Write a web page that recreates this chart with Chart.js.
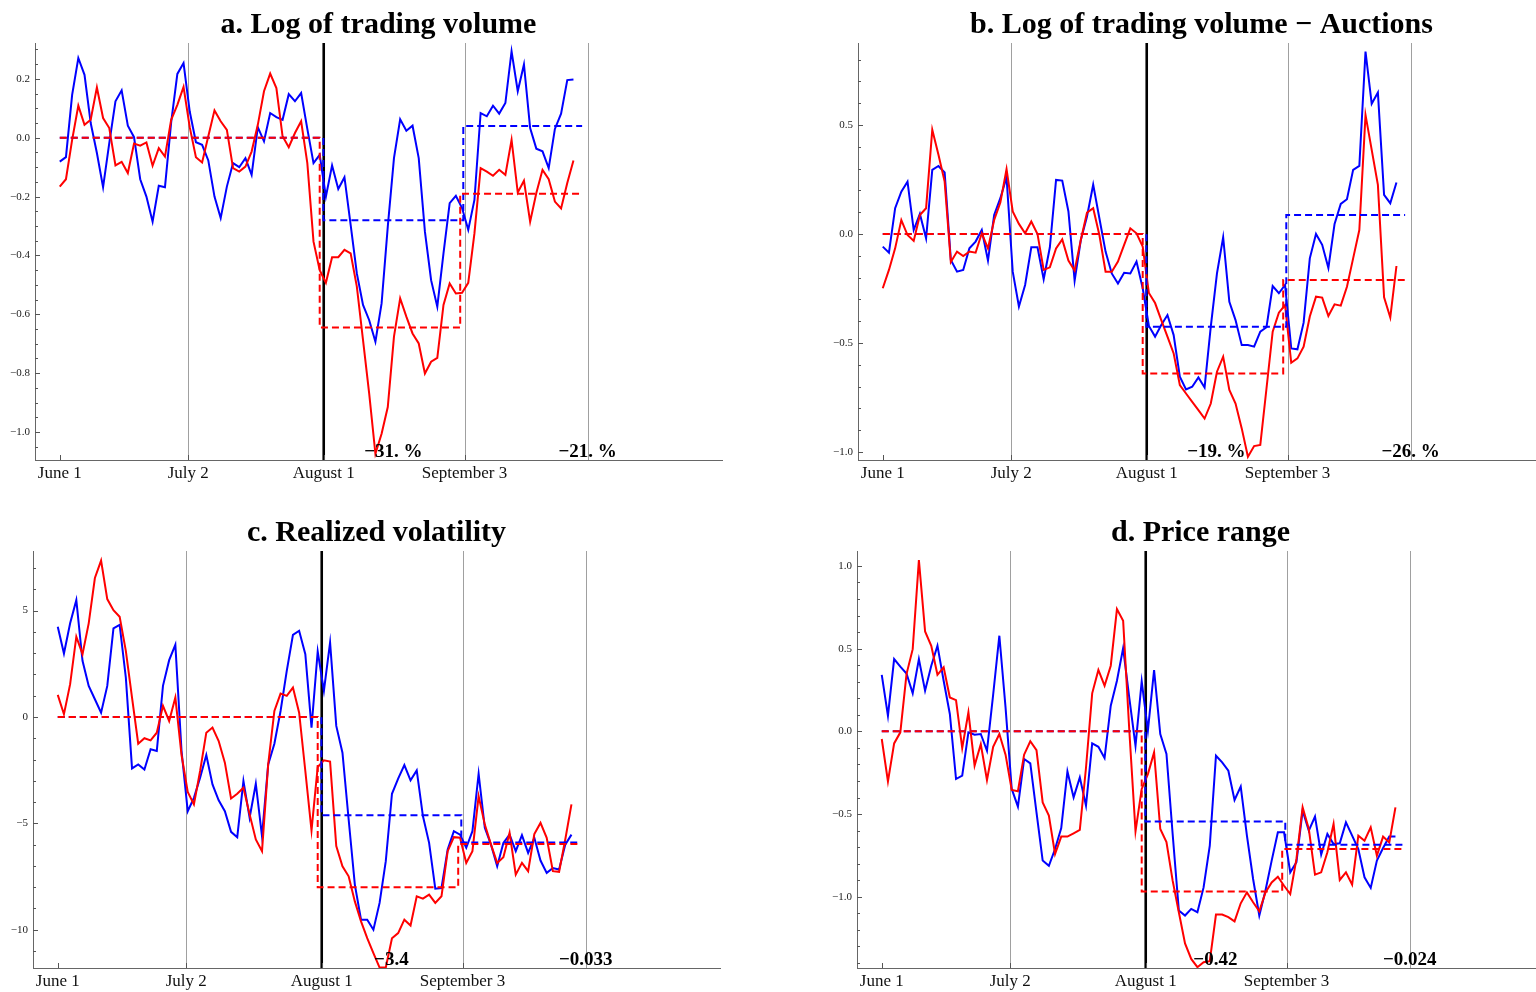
<!DOCTYPE html>
<html>
<head>
<meta charset="utf-8">
<script src="https://cdn.jsdelivr.net/npm/chart.js@4.4.1/dist/chart.umd.min.js"></script>
<style>
  body { margin: 0; background: #fff; width: 1536px; height: 992px; overflow: hidden; position: relative; }
  .panel { position: absolute; width: 768px; height: 496px; }
</style>
</head>
<body>
<div class="panel" style="left:0px;top:0px"><canvas id="chartA" width="768" height="496"></canvas></div>
<div class="panel" style="left:823px;top:0px"><canvas id="chartB" width="768" height="496"></canvas></div>
<div class="panel" style="left:-2px;top:508px"><canvas id="chartC" width="768" height="496"></canvas></div>
<div class="panel" style="left:822px;top:508px"><canvas id="chartD" width="768" height="496"></canvas></div>

<script>
// x axis: trading day index, June 1 = 0
const dateLabels = ['June 1', 'July 2', 'August 1', 'September 3'];
const datePos = [0, 20.75, 42.65, 65.4];
const octPos = 85.3;
const redBreaks = [42.0, 64.7];
const blueBreaks = [42.6, 65.2];
const stepEnd = 84.4;

// a. Log of trading volume
const volBlue = [-0.081, -0.066, 0.146, 0.271, 0.214, 0.05, -0.052, -0.168, -0.018, 0.124,
  0.161, 0.041, 0.002, -0.141, -0.2, -0.285, -0.163, -0.168, 0.052, 0.217,
  0.254, 0.089, -0.015, -0.024, -0.077, -0.2, -0.273, -0.166, -0.086, -0.1,
  -0.069, -0.126, 0.036, -0.012, 0.084, 0.07, 0.061, 0.148, 0.124, 0.152,
  0.03, -0.086, -0.058, -0.2, -0.094, -0.174, -0.134, -0.296, -0.461, -0.568,
  -0.62, -0.693, -0.563, -0.302, -0.069, 0.063, 0.024, 0.041, -0.069, -0.319,
  -0.484, -0.574, -0.393, -0.222, -0.197, -0.239, -0.313, -0.211, 0.084, 0.073,
  0.109, 0.082, 0.118, 0.294, 0.158, 0.249, 0.033, -0.037, -0.046, -0.103,
  0.03, 0.082, 0.196, 0.198];
const volRed = [-0.166, -0.141, -0.007, 0.109, 0.044, 0.061, 0.171, 0.067, 0.033, -0.094,
  -0.082, -0.12, -0.02, -0.027, -0.016, -0.095, -0.035, -0.064, 0.061, 0.112,
  0.173, 0.036, -0.066, -0.084, 0.005, 0.093, 0.056, 0.027, -0.103, -0.115,
  -0.098, -0.047, 0.044, 0.158, 0.218, 0.169, 0.005, -0.032, 0.016, 0.056,
  -0.086, -0.353, -0.45, -0.493, -0.406, -0.406, -0.381, -0.393, -0.506, -0.688,
  -0.87, -1.074, -1.006, -0.915, -0.676, -0.546, -0.608, -0.665, -0.699, -0.801,
  -0.761, -0.748, -0.568, -0.495, -0.529, -0.527, -0.493, -0.325, -0.103, -0.115,
  -0.129, -0.109, -0.126, -0.007, -0.186, -0.146, -0.285, -0.188, -0.109, -0.141,
  -0.217, -0.24, -0.154, -0.077];
const volBlueLevels = [0, -0.28, 0.04];
const volRedLevels = [0, -0.645, -0.19];
const volTicks = [-1.0, -0.8, -0.6, -0.4, -0.2, 0.0, 0.2];
const volNotes = ['\u221231. %', '\u221221. %'];

// b. Log of trading volume - Auctions
const aucBlue = [-0.058, -0.086, 0.118, 0.194, 0.24, 0.018, 0.092, -0.02, 0.294, 0.312,
  0.282, -0.119, -0.173, -0.165, -0.066, -0.035, 0.018, -0.122, 0.087, 0.164,
  0.26, -0.173, -0.333, -0.234, -0.061, -0.061, -0.208, -0.061, 0.248, 0.245,
  0.103, -0.214, -0.028, 0.08, 0.226, 0.072, -0.081, -0.181, -0.227, -0.178,
  -0.181, -0.127, -0.249, -0.422, -0.471, -0.418, -0.372, -0.464, -0.655, -0.713,
  -0.701, -0.658, -0.704, -0.425, -0.181, -0.015, -0.311, -0.395, -0.51, -0.51,
  -0.517, -0.448, -0.428, -0.239, -0.272, -0.234, -0.525, -0.529, -0.407, -0.112,
  0.0, -0.05, -0.156, 0.046, 0.138, 0.159, 0.294, 0.312, 0.837, 0.597,
  0.649, 0.179, 0.141, 0.236];
const aucRed = [-0.249, -0.165, -0.066, 0.064, -0.005, -0.032, 0.087, 0.118, 0.478, 0.363,
  0.24, -0.129, -0.081, -0.101, -0.081, -0.086, 0.003, -0.066, 0.064, 0.144,
  0.297, 0.103, 0.046, 0.003, 0.057, 0.0, -0.165, -0.153, -0.066, -0.025,
  -0.122, -0.168, -0.028, 0.098, 0.118, -0.005, -0.173, -0.173, -0.127, -0.05,
  0.026, 0.003, -0.058, -0.271, -0.317, -0.395, -0.471, -0.548, -0.693, -0.732,
  -0.77, -0.808, -0.847, -0.778, -0.632, -0.563, -0.716, -0.778, -0.892, -1.022,
  -0.973, -0.968, -0.709, -0.448, -0.361, -0.326, -0.591, -0.571, -0.517, -0.379,
  -0.288, -0.292, -0.376, -0.323, -0.329, -0.242, -0.112, 0.018, 0.546, 0.386,
  0.225, -0.291, -0.383, -0.147];
const aucBlueLevels = [0, -0.426, 0.087];
const aucRedLevels = [0, -0.64, -0.211];
const aucTicks = [-1.0, -0.5, 0.0, 0.5];
const aucNotes = ['\u221219. %', '\u221226. %'];

// c. Realized volatility
const rvBlue = [4.24, 2.98, 4.4, 5.49, 2.64, 1.46, 0.83, 0.2, 1.46, 4.16,
  4.33, 1.85, -2.42, -2.23, -2.47, -1.52, -1.6, 1.46, 2.67, 3.39,
  -1.6, -4.43, -3.8, -2.86, -1.79, -3.17, -3.92, -4.43, -5.4, -5.65,
  -3.01, -4.74, -3.14, -5.6, -2.23, -1.26, 0.28, 2.17, 3.86, 4.05,
  2.95, -0.5, 3.08, 1.22, 3.5, -0.42, -1.68, -4.82, -7.88, -9.53,
  -9.53, -10.0, -8.74, -6.78, -3.61, -2.9, -2.26, -2.98, -2.51, -4.66,
  -5.92, -8.07, -8.04, -6.23, -5.37, -5.53, -6.15, -5.37, -2.67, -5.21,
  -6.0, -7.02, -5.92, -5.53, -6.31, -5.56, -6.39, -5.68, -6.75, -7.33,
  -7.1, -7.17, -6.0, -5.53];
const rvRed = [1.04, 0.13, 1.54, 3.77, 2.95, 4.4, 6.53, 7.35, 5.54, 5.02,
  4.71, 3.11, 0.91, -1.26, -1.0, -1.1, -0.74, 0.52, -0.19, 0.91,
  -1.79, -3.52, -4.11, -2.54, -0.74, -0.5, -1.13, -2.15, -3.83, -3.61,
  -3.33, -4.58, -5.76, -6.31, -2.23, 0.28, 1.1, 0.99, 1.38, 0.2,
  -2.54, -5.34, -2.35, -2.04, -2.1, -6.07, -7.02, -7.49, -8.67, -9.61,
  -10.4, -11.1, -11.78, -11.78, -10.4, -10.16, -9.53, -9.8, -8.43, -8.54,
  -8.35, -8.74, -8.43, -6.31, -5.65, -5.68, -6.86, -6.31, -3.72, -5.06,
  -6.0, -6.86, -6.59, -5.45, -7.41, -6.86, -7.25, -5.5, -4.98, -5.68,
  -7.25, -7.28, -5.76, -4.11];
const rvBlueLevels = [0, -4.62, -5.9];
const rvRedLevels = [0, -8.0, -5.97];
const rvTicks = [-10, -5, 0, 5];
const rvNotes = ['\u22123.4', '\u22120.033'];

// d. Price range
const rangeBlue = [0.342, 0.095, 0.437, 0.391, 0.35, 0.23, 0.437, 0.246, 0.397, 0.518,
  0.306, 0.105, -0.288, -0.268, -0.006, -0.02, -0.016, -0.117, 0.222, 0.578,
  0.145, -0.348, -0.455, -0.167, -0.193, -0.489, -0.781, -0.812, -0.711, -0.584,
  -0.242, -0.399, -0.278, -0.449, -0.073, -0.093, -0.161, 0.155, 0.306, 0.503,
  0.201, -0.087, 0.302, 0.004, 0.371, -0.016, -0.137, -0.62, -1.083, -1.113,
  -1.073, -1.093, -0.943, -0.691, -0.147, -0.187, -0.238, -0.415, -0.334, -0.63,
  -0.892, -1.113, -0.962, -0.781, -0.61, -0.61, -0.852, -0.791, -0.479, -0.6,
  -0.515, -0.745, -0.62, -0.681, -0.676, -0.55, -0.63, -0.711, -0.882, -0.946,
  -0.781, -0.705, -0.636, -0.636];
const rangeRed = [-0.046, -0.302, -0.073, -0.006, 0.346, 0.497, 1.035, 0.604, 0.517, 0.342,
  0.387, 0.205, 0.189, -0.101, 0.115, -0.207, -0.077, -0.294, -0.093, -0.016,
  -0.141, -0.354, -0.362, -0.141, -0.06, -0.113, -0.429, -0.509, -0.741, -0.636,
  -0.636, -0.616, -0.596, -0.22, 0.23, 0.371, 0.276, 0.397, 0.739, 0.669,
  0.004, -0.604, -0.348, -0.258, -0.127, -0.59, -0.669, -0.902, -1.093, -1.281,
  -1.375, -1.425, -1.395, -1.389, -1.107, -1.107, -1.123, -1.148, -1.039, -0.973,
  -1.033, -1.087, -0.973, -0.913, -0.878, -0.933, -0.983, -0.771, -0.459, -0.59,
  -0.866, -0.852, -0.731, -0.56, -0.898, -0.852, -0.926, -0.63, -0.661, -0.58,
  -0.751, -0.636, -0.671, -0.459];
const rangeBlueLevels = [0, -0.544, -0.685];
const rangeRedLevels = [0, -0.967, -0.711];
const rangeTicks = [-1.0, -0.5, 0.0, 0.5, 1.0];
const rangeNotes = ['\u22120.42', '\u22120.024'];

const serif = '"Liberation Serif", "Times New Roman", serif';

function toPoints(values) {
  return values.map((v, i) => ({ x: i, y: v }));
}

function stepPoints(levels, breaks) {
  return [
    { x: 0, y: levels[0] }, { x: breaks[0], y: levels[0] },
    { x: breaks[0], y: levels[1] }, { x: breaks[1], y: levels[1] },
    { x: breaks[1], y: levels[2] }, { x: stepEnd, y: levels[2] }
  ];
}

function fmt(v, decimals) {
  const s = Math.abs(v).toFixed(decimals);
  return v < -1e-9 ? '\u2212' + s : s;
}

// vertical date lines, inward ticks, period notes and the panel title
const decorPlugin = {
  id: 'decor',
  beforeDatasetsDraw(chart, args, opts) {
    const { ctx, chartArea } = chart;
    const xs = chart.scales.x;
    ctx.save();
    ctx.strokeStyle = '#a0a0a0';
    ctx.lineWidth = 1;
    [datePos[1], datePos[3], octPos].forEach(v => {
      const px = Math.round(xs.getPixelForValue(v)) + 0.5;
      ctx.beginPath();
      ctx.moveTo(px, chartArea.top);
      ctx.lineTo(px, chartArea.bottom);
      ctx.stroke();
    });
    ctx.strokeStyle = '#000';
    ctx.lineWidth = 2.6;
    const bx = xs.getPixelForValue(datePos[2]);
    ctx.beginPath();
    ctx.moveTo(bx, chartArea.top);
    ctx.lineTo(bx, chartArea.bottom);
    ctx.stroke();
    ctx.restore();
  },
  afterDatasetsDraw(chart, args, opts) {
    const { ctx, chartArea } = chart;
    const xs = chart.scales.x;
    const ys = chart.scales.y;
    ctx.save();
    ctx.strokeStyle = '#555';
    ctx.lineWidth = 1;
    const left = chartArea.left;
    opts.minor.forEach(v => {
      const py = Math.round(ys.getPixelForValue(v)) + 0.5;
      ctx.beginPath();
      ctx.moveTo(left, py);
      ctx.lineTo(left + 3, py);
      ctx.stroke();
    });
    opts.major.forEach(v => {
      const py = Math.round(ys.getPixelForValue(v)) + 0.5;
      ctx.beginPath();
      ctx.moveTo(left, py);
      ctx.lineTo(left + 5, py);
      ctx.stroke();
    });
    datePos.forEach(v => {
      const px = Math.round(xs.getPixelForValue(v)) + 0.5;
      ctx.beginPath();
      ctx.moveTo(px, chartArea.bottom);
      ctx.lineTo(px, chartArea.bottom - 5);
      ctx.stroke();
    });
    ctx.fillStyle = '#000';
    ctx.font = 'bold 19px ' + serif;
    ctx.textAlign = 'center';
    ctx.textBaseline = 'alphabetic';
    const noteX = [(blueBreaks[0] + blueBreaks[1]) / 2, octPos];
    opts.notes.forEach((t, i) => {
      ctx.fillText(t, xs.getPixelForValue(noteX[i]), chartArea.bottom - 3);
    });
    // title centred over the plot area
    ctx.font = 'bold 30px ' + serif;
    ctx.fillText(opts.title, (chartArea.left + chartArea.right) / 2, chartArea.top - 10);
    ctx.restore();
  }
};

function makePanel(id, title, blue, red, blueLevels, redLevels, yMin, yMax, majors, minorStep, decimals, notes) {
  const minor = [];
  for (let v = Math.ceil(yMin / minorStep) * minorStep; v <= yMax; v += minorStep) {
    minor.push(v);
  }
  new Chart(document.getElementById(id), {
    type: 'line',
    data: {
      datasets: [
        { data: stepPoints(redLevels, redBreaks), borderColor: '#ff0000', borderWidth: 2, borderDash: [7, 4] },
        { data: stepPoints(blueLevels, blueBreaks), borderColor: '#0000ff', borderWidth: 2, borderDash: [7, 4] },
        { data: toPoints(red), borderColor: '#ff0000', borderWidth: 2 },
        { data: toPoints(blue), borderColor: '#0000ff', borderWidth: 2 }
      ]
    },
    options: {
      responsive: false,
      animation: false,
      devicePixelRatio: 1,
      layout: { padding: { left: 0, right: 46, top: 43, bottom: 0 } },
      elements: { point: { radius: 0 }, line: { tension: 0, fill: false } },
      plugins: {
        legend: { display: false },
        tooltip: { enabled: false },
        title: { display: false },
        decor: { major: majors, minor: minor, notes: notes, title: title }
      },
      scales: {
        x: {
          type: 'linear',
          min: -4,
          max: 107,
          afterFit(scale) { scale.height = 36; },
          afterBuildTicks(scale) { scale.ticks = datePos.map(v => ({ value: v })); },
          grid: { display: false, drawTicks: false },
          border: { display: true, color: '#666', width: 1 },
          ticks: {
            autoSkip: false,
            maxRotation: 0,
            padding: 3,
            color: '#111',
            font: { family: serif, size: 17 },
            callback: (v, i) => dateLabels[i]
          }
        },
        y: {
          min: yMin,
          max: yMax,
          afterFit(scale) { scale.width = 35; },
          afterBuildTicks(scale) { scale.ticks = majors.map(v => ({ value: v })); },
          grid: { display: false, drawTicks: false },
          border: { display: true, color: '#666', width: 1 },
          ticks: {
            padding: 5,
            color: '#222',
            font: { family: serif, size: 11 },
            callback: v => fmt(v, decimals)
          }
        }
      }
    },
    plugins: [decorPlugin]
  });
}

makePanel('chartA', 'a. Log of trading volume', volBlue, volRed, volBlueLevels, volRedLevels,
  -1.095, 0.322, volTicks, 0.05, 1, volNotes);
makePanel('chartB', 'b. Log of trading volume \u2212 Auctions', aucBlue, aucRed, aucBlueLevels, aucRedLevels,
  -1.037, 0.876, aucTicks, 0.1, 1, aucNotes);
makePanel('chartC', 'c. Realized volatility', rvBlue, rvRed, rvBlueLevels, rvRedLevels,
  -11.8, 7.8, rvTicks, 1, 0, rvNotes);
makePanel('chartD', 'd. Price range', rangeBlue, rangeRed, rangeBlueLevels, rangeRedLevels,
  -1.43, 1.09, rangeTicks, 0.1, 1, rangeNotes);
</script>
</body>
</html>
